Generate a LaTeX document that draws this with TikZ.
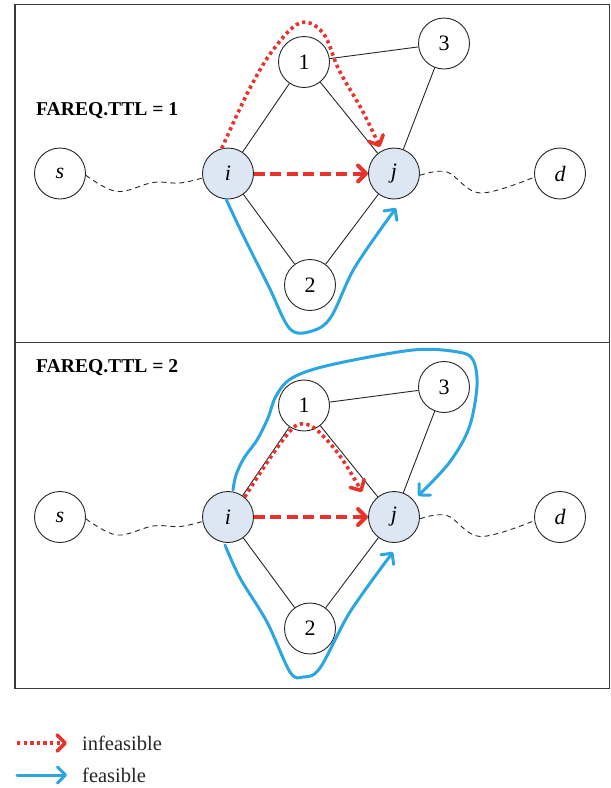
\documentclass[tikz,border=0pt]{standalone}
\usepackage{fontspec}
\setmainfont{Liberation Serif}
\usetikzlibrary{arrows.meta}
\definecolor{infred}{HTML}{E8322C}
\definecolor{feasblue}{HTML}{2CA6E0}
\definecolor{nodefill}{HTML}{DCE7F3}
\definecolor{framegray}{HTML}{3A3A3A}
\tikzset{
  vertex/.style={circle, draw=black!85, line width=0.9pt, minimum size=51pt, inner sep=0pt, fill=white, font=\fontsize{22}{24}\selectfont},
  endpoint/.style={vertex, fill=nodefill},
  link/.style={draw=black!85, line width=0.9pt},
  route/.style={draw=black!85, line width=0.9pt, dash pattern=on 5pt off 4pt},
  chev/.style={-{Straight Barb[length=8pt, width=16pt, line cap=round, line join=round]}},
  direct/.style={infred, line width=4pt, dash pattern=on 11pt off 5.5pt, chev},
  detour/.style={infred, line width=3.6pt, dash pattern=on 3.3pt off 3.3pt, chev},
  feas/.style={feasblue, line width=3pt, line cap=round, line join=round, chev},
  panel/.style={draw=framegray, line width=1.4pt},
  ttl/.style={anchor=west, font=\fontsize{19.6}{21}\selectfont\bfseries, inner sep=0pt},
  legend/.style={anchor=west, font=\fontsize{20.5}{22}\selectfont, inner sep=0pt, text=black!85}
}
\begin{document}
\begin{tikzpicture}[x=1pt, y=-1pt]
\useasboundingbox (0,0) rectangle (611,788);

% frames of the two panels
\draw[panel] (15,4.5) rectangle (609.5,342.7);
\draw[panel] (15,342.7) rectangle (609.5,688.5);

% ---------- upper panel: TTL = 1 ----------
\node[ttl] (ttlA) at (36,111) {FAREQ.TTL = 1};

\node[vertex]   (sA)   at (60,173.5)  {\itshape s};
\node[endpoint] (iA)   at (228,173.5) {\itshape i};
\node[endpoint] (jA)   at (394,173.5) {\itshape j};
\node[vertex]   (dA)   at (560,173.5) {\itshape d};
\node[vertex]   (oneA) at (304,62)    {1};
\node[vertex]   (thrA) at (444,43.5)  {3};
\node[vertex]   (twoA) at (310,285)   {2};

\draw[link] (iA) -- (oneA);
\draw[link] (oneA) -- (jA);
\draw[link] (iA) -- (twoA);
\draw[link] (twoA) -- (jA);
\draw[link] (oneA) -- (thrA);
\draw[link] (thrA) -- (jA);

\draw[route] plot[smooth, tension=0.6] coordinates {(sA.-4) (117,191.5) (153,182.5) (180,183) (iA.190)};
\draw[route] plot[smooth, tension=0.6] coordinates {(jA.-4) (447,172) (480,193) (dA.188)};

\draw[direct] (iA) -- (jA);
\draw[detour] plot[smooth, tension=0.6] coordinates {(iA.104) (249,90) (273,50) (300,23) (323,33) (339,70) (362,110) (380,147)};
\draw[feas] plot[smooth, tension=0.55] coordinates {(iA.266) (242,233) (269,287) (290,329) (312,331) (331,317) (355,267) (396,208)};

% ---------- lower panel: TTL = 2 ----------
\node[ttl] (ttlB) at (36,368) {FAREQ.TTL = 2};

\node[vertex]   (sB)   at (60,517)  {\itshape s};
\node[endpoint] (iB)   at (228,517) {\itshape i};
\node[endpoint] (jB)   at (394,517) {\itshape j};
\node[vertex]   (dB)   at (560,517) {\itshape d};
\node[vertex]   (oneB) at (304,405.5) {1};
\node[vertex]   (thrB) at (444,387) {3};
\node[vertex]   (twoB) at (310,628.5) {2};

\draw[link] (iB) -- (oneB);
\draw[link] (oneB) -- (jB);
\draw[link] (iB) -- (twoB);
\draw[link] (twoB) -- (jB);
\draw[link] (oneB) -- (thrB);
\draw[link] (thrB) -- (jB);

\draw[route] plot[smooth, tension=0.6] coordinates {(sB.-4) (117,535) (153,526) (180,526.5) (iB.190)};
\draw[route] plot[smooth, tension=0.6] coordinates {(jB.-4) (447,515.5) (480,536.5) (dB.188)};

\draw[direct] (iB) -- (jB);
\draw[detour] plot[smooth, tension=0.6] coordinates {(iB.50) (270,458) (292,429) (304,424) (318,431) (340,456) (362,492)};
\draw[feas] plot[smooth, tension=0.55] coordinates {(233,490) (236,475) (244,458) (257,440) (268,418) (276,396) (292,378) (330,365) (413,350) (458,352) (473,360) (477,386) (469,428) (449,463) (418,496)};
\draw[feas] plot[smooth, tension=0.55] coordinates {(225,545) (240,578) (267,622) (290,672) (303,677) (320,668) (350,612) (393,552)};

% ---------- legend ----------
\coordinate (legA0) at (17,743);
\coordinate (legA1) at (67,743);
\coordinate (legB0) at (17,775);
\coordinate (legB1) at (67,775);
\draw[detour] (legA0) -- (legA1);
\draw[feas] (legB0) -- (legB1);
\node[legend] (legAt) at (82,743) {infeasible};
\node[legend] (legBt) at (82,775) {feasible};
\end{tikzpicture}
\end{document}
